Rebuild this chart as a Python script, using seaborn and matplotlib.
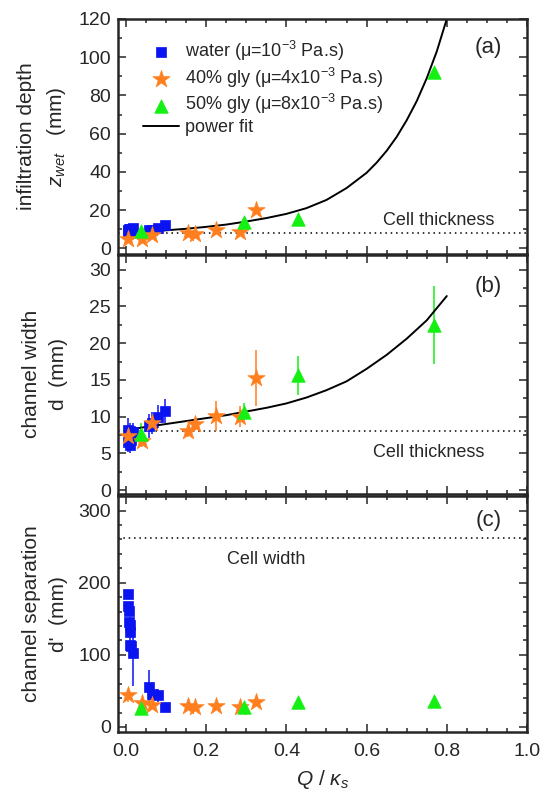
import numpy as np
import pandas as pd
import seaborn as sns
import matplotlib.pyplot as plt
from matplotlib.ticker import MultipleLocator

# Datos
x_water = [0.004, 0.006, 0.007, 0.008, 0.009, 0.010, 0.011, 0.012, 0.018, 0.058, 0.064, 0.081, 0.098]
zwet_water = [9.0, 9.5, 8.8, 10.0, 9.2, 10.3, 9.8, 9.6, 10.8, 9.5, 9.8, 10.6, 12.0]
d_water = [8.2, 6.5, 7.2, 7.7, 6.1, 8.0, 7.0, 6.8, 7.9, 8.7, 9.1, 10.0, 10.8]
d_water_err = [1.6, 1.3, 1.0, 1.2, 1.0, 1.2, 1.0, 1.2, 1.3, 1.6, 1.5, 1.6, 1.6]
dp_water = [184, 168, 161, 145, 142, 131, 114, 112, 103, 56, 45, 44, 28]
dp_water_err = [3, 5, 5, 5, 10, 12, 5, 5, 46, 23, 5, 9, 2]

x_gly40 = [0.006, 0.041, 0.066, 0.155, 0.172, 0.224, 0.284, 0.324]
zwet_gly40 = [5.1, 5.1, 6.8, 8.0, 7.7, 9.8, 8.5, 19.9]
d_gly40 = [7.4, 6.7, 9.1, 8.1, 9.0, 10.1, 10.0, 15.2]
d_gly40_err = [0.8, 0.8, 0.8, 0.8, 0.8, 2.0, 1.4, 3.8]
dp_gly40 = [44, 33, 31, 28.5, 28, 28.5, 27.5, 34]
dp_gly40_err = [9, 3, 3, 3, 3, 3, 3, 3]

x_gly50 = [0.037, 0.294, 0.43, 0.768]
zwet_gly50 = [9.1, 13.8, 15.5, 92.3]
zwet_gly50_err = [1.5, 1.5, 2.0, 1.5]
d_gly50 = [7.6, 10.7, 15.6, 22.5]
d_gly50_err = [1.5, 1.1, 2.7, 5.3]
dp_gly50 = [26, 27.5, 34.4, 36.3]
dp_gly50_err = [2, 3, 3, 3]

# ajuste de potencia
fit_a_x = [0.0, 0.05, 0.1, 0.15, 0.2, 0.25, 0.3, 0.35, 0.4, 0.45, 0.5, 0.55, 0.6,
           0.625, 0.65, 0.675, 0.7, 0.725, 0.75, 0.775, 0.8]
fit_a_y = [8.0, 8.6, 9.4, 10.2, 11.2, 12.4, 14.0, 15.8, 18.0, 21.0, 25.3, 31.5, 39.5,
           44.8, 51.0, 58.3, 67.0, 77.0, 89.0, 103.0, 120.0]
fit_b_x = [0.0, 0.05, 0.1, 0.15, 0.2, 0.25, 0.3, 0.35, 0.4, 0.45, 0.5, 0.55, 0.6,
           0.65, 0.7, 0.75, 0.8]
fit_b_y = [8.2, 8.6, 9.0, 9.4, 9.8, 10.2, 10.7, 11.2, 11.8, 12.6, 13.6, 14.8, 16.5,
           18.4, 20.6, 23.1, 26.4]

cell_thickness = 8
cell_width = 262

c_water = '#0a14f0'
c_gly40 = '#ff7f1e'
c_gly50 = '#14f014'

sns.set_style('ticks')
plt.rcParams['font.family'] = ['Liberation Sans', 'DejaVu Sans']
plt.rcParams['mathtext.fontset'] = 'custom'
plt.rcParams['mathtext.rm'] = 'Liberation Sans'
plt.rcParams['mathtext.it'] = 'Liberation Sans:italic'
plt.rcParams['mathtext.bf'] = 'Liberation Sans:bold'

fig = plt.figure(figsize=(5.49, 7.94), dpi=100)
left, width = 0.2149, 0.745
ax_a = fig.add_axes([left, 0.6801, width, 0.296])
ax_b = fig.add_axes([left, 0.378, width, 0.301])
ax_c = fig.add_axes([left, 0.0781, width, 0.297])


def puntos(ax, x, y, err, color, marker, size, label=None):
    if err is not None:
        ax.errorbar(x, y, yerr=err, fmt='none', ecolor=color, elinewidth=1.1, capsize=0, zorder=2)
    df = pd.DataFrame({'x': x, 'y': y})
    sns.scatterplot(data=df, x='x', y='y', ax=ax, color=color, marker=marker, s=size,
                    edgecolor=color, linewidth=0.5, label=label, zorder=3)


# (a) profundidad de infiltracion
fit_a = pd.DataFrame({'x': fit_a_x, 'y': fit_a_y})
puntos(ax_a, x_water, zwet_water, None, c_water, 's', 62, 'water (μ=10$^{\\mathregular{-3}}$ Pa.s)')
puntos(ax_a, x_gly40, zwet_gly40, None, c_gly40, '*', 170, '40% gly (μ=4x10$^{\\mathregular{-3}}$ Pa.s)')
puntos(ax_a, x_gly50, zwet_gly50, zwet_gly50_err, c_gly50, '^', 95, '50% gly (μ=8x10$^{\\mathregular{-3}}$ Pa.s)')
sns.lineplot(data=fit_a, x='x', y='y', ax=ax_a, color='black', lw=1.4, label='power fit', zorder=2.5)
ax_a.axhline(cell_thickness, color='black', ls=(0, (1, 2.5)), lw=1.1, zorder=1)
ax_a.text(0.64, 14.3, 'Cell thickness', fontsize=13, va='center')
ax_a.set_ylim(-3, 120)
ax_a.yaxis.set_major_locator(MultipleLocator(20))
ax_a.yaxis.set_minor_locator(MultipleLocator(10))
ax_a.set_ylabel('infiltration depth\n$z_{wet}$   (mm)', fontsize=15, linespacing=1.5)
ax_a.legend(loc='upper left', bbox_to_anchor=(0.062, 0.915), frameon=False, fontsize=13,
            handlelength=2.0, handletextpad=0.3, labelspacing=0.14, borderaxespad=0.0,
            borderpad=0.0)

# (b) ancho del canal
fit_b = pd.DataFrame({'x': fit_b_x, 'y': fit_b_y})
puntos(ax_b, x_water, d_water, d_water_err, c_water, 's', 62)
puntos(ax_b, x_gly40, d_gly40, d_gly40_err, c_gly40, '*', 170)
puntos(ax_b, x_gly50, d_gly50, d_gly50_err, c_gly50, '^', 95)
sns.lineplot(data=fit_b, x='x', y='y', ax=ax_b, color='black', lw=1.4, zorder=2.5)
ax_b.axhline(cell_thickness, color='black', ls=(0, (1, 2.5)), lw=1.1, zorder=1)
ax_b.text(0.615, 5.1, 'Cell thickness', fontsize=13, va='center')
ax_b.set_ylim(-0.5, 32)
ax_b.yaxis.set_major_locator(MultipleLocator(5))
ax_b.yaxis.set_minor_locator(MultipleLocator(2.5))
ax_b.set_ylabel('channel width\nd  (mm)', fontsize=15, linespacing=1.5)

# (c) separacion entre canales
puntos(ax_c, x_water, dp_water, dp_water_err, c_water, 's', 62)
puntos(ax_c, x_gly40, dp_gly40, dp_gly40_err, c_gly40, '*', 170)
puntos(ax_c, x_gly50, dp_gly50, dp_gly50_err, c_gly50, '^', 95)
ax_c.axhline(cell_width, color='black', ls=(0, (1, 2.5)), lw=1.1, zorder=1)
ax_c.text(0.253, 232, 'Cell width', fontsize=13, va='center')
ax_c.set_ylim(-7, 320)
ax_c.yaxis.set_major_locator(MultipleLocator(100))
ax_c.yaxis.set_minor_locator(MultipleLocator(20))
ax_c.set_ylabel("channel separation\nd'  (mm)", fontsize=15, linespacing=1.5)
ax_c.set_xlabel(r'$Q$ / $\kappa_s$', fontsize=15, labelpad=6)

for ax, tag, ty in [(ax_a, '(a)', 0.88), (ax_b, '(b)', 0.867), (ax_c, '(c)', 0.898)]:
    ax.set_xlim(-0.02, 1.0)
    ax.xaxis.set_major_locator(MultipleLocator(0.2))
    ax.xaxis.set_minor_locator(MultipleLocator(0.05))
    ax.tick_params(which='both', direction='in', top=True, right=True, labelsize=14, width=1.1)
    ax.tick_params(which='major', length=5.5)
    ax.tick_params(which='minor', length=3)
    ax.tick_params(axis='x', which='major', pad=8)
    ax.tick_params(axis='y', which='major', pad=5)
    for sp in ax.spines.values():
        sp.set_linewidth(1.8)
    ax.text(0.938, ty, tag, transform=ax.transAxes, fontsize=16, ha='right', va='center')
    ax.yaxis.set_label_coords(-0.123, 0.5)
    if ax is not ax_c:
        ax.set_xlabel('')
        ax.tick_params(labelbottom=False)

ax_c.xaxis.set_major_formatter(plt.FuncFormatter(lambda v, p: f'{v:.1f}'))

fig.savefig('out.png', dpi=100)
plt.close()
